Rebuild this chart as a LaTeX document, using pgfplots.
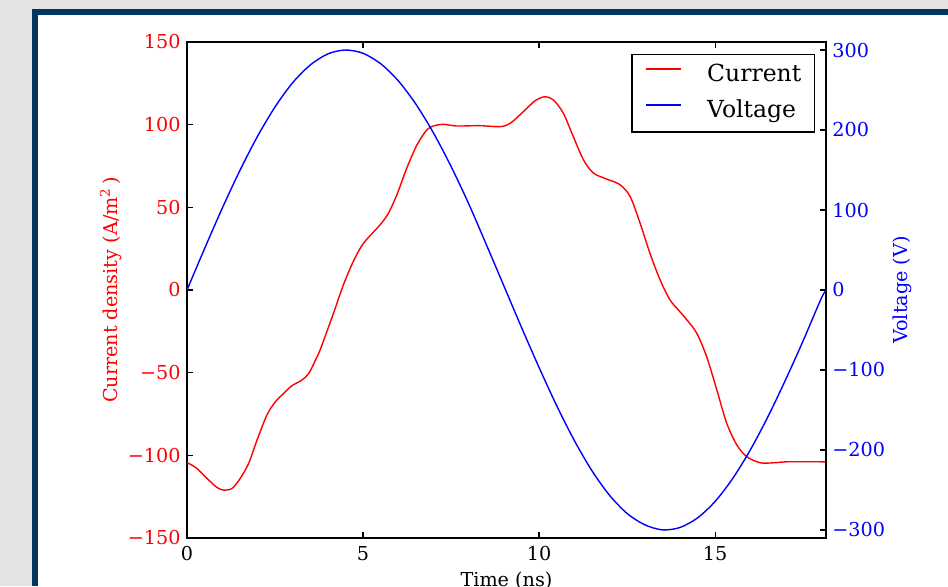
\documentclass[border=0pt]{standalone}
\usepackage{fontspec}
\setmainfont{DejaVu Serif}
\usepackage{pgfplots}
\pgfplotsset{compat=1.18}
\definecolor{bgGray}{HTML}{E5E4E2}
\definecolor{frameBlue}{HTML}{03365F}
\newcommand{\tickfont}{\fontsize{9.6}{11}\selectfont}
\newcommand{\legfont}{\fontsize{11.75}{14}\selectfont}
\begin{document}
\begin{tikzpicture}
\begin{scope}[x=0.5pt,y=0.5pt]
\useasboundingbox (0,0) rectangle (948,586);
\clip (0,0) rectangle (948,586);
\fill[bgGray] (0,0) rectangle (948,586);
\fill[frameBlue] (32,0) rectangle (948,577);
\fill[white] (38,0) rectangle (948,571);
\end{scope}
\begin{scope}
\clip (0,0) rectangle (474pt,293pt);
\begin{axis}[
  at={(93.5pt,24pt)}, anchor=south west, scale only axis,
  width=319.5pt, height=248pt,
  xmin=0, xmax=18.15, ymin=-150, ymax=150,
  xtick={0,5,10,15}, xticklabels={0,5,10,15},
  ytick={-150,-100,-50,0,50,100,150},
  yticklabels={−150,−100,−50,0,50,100,150},
  xtick pos=both, ytick pos=left,
  xticklabel pos=lower, yticklabel pos=left,
  tick align=inside, major tick length=3pt,
  every tick/.style={black, line width=0.6pt},
  axis line style={black, line width=0.7pt},
  every tick label/.append style={font=\tickfont, inner sep=0pt},
  yticklabel style={red, xshift=-3pt},
  xticklabel style={yshift=-4pt},
  label style={font=\tickfont},
  xlabel={Time (ns)},
  xlabel style={at={(axis description cs:0.5,-0.0968)}, anchor=base},
  ylabel={Current density (A/m\textsuperscript{2}\,)},
  ylabel style={red, at={(axis description cs:-0.1095,0.5)}, anchor=base},
]
\addplot[red, line width=0.7pt, smooth] coordinates {
(0,-104.3)(0.28,-107.9)(0.57,-114.0)(0.85,-119.4)(1.04,-121.0)(1.28,-120.0)
(1.51,-114.0)(1.75,-104.9)(1.99,-90.7)(2.27,-75.6)(2.51,-67.6)(2.75,-62.5)
(2.98,-57.9)(3.27,-54.4)(3.46,-50.4)(3.65,-42.3)(3.78,-36.3)(4.16,-14.1)
(4.44,3.0)(4.72,17.1)(5.01,28.2)(5.48,39.3)(5.72,46.4)(5.96,57.5)
(6.24,73.6)(6.53,87.7)(6.81,96.8)(7.00,99.2)(7.28,100.2)(7.66,99.2)
(8.32,99.4)(8.89,98.8)(9.18,100.8)(9.55,107.8)(9.89,114.5)(10.17,116.9)
(10.41,114.9)(10.69,106.9)(10.97,92.9)(11.26,78.8)(11.54,70.8)(11.92,67.1)
(12.30,63.7)(12.59,56.4)(12.87,40.4)(13.15,22.2)(13.44,6.0)(13.72,-6.0)
(14.00,-13.1)(14.20,-18.1)(14.48,-26.2)(14.76,-40.3)(15.05,-60.5)(15.33,-80.6)
(15.62,-93.8)(15.90,-100.8)(16.28,-104.5)(16.66,-104.5)(17.04,-103.9)(17.51,-103.9)
(17.98,-103.9)(18.15,-104.0)
};
\end{axis}
\begin{axis}[
  at={(93.5pt,24pt)}, anchor=south west, scale only axis,
  width=319.5pt, height=248pt,
  xmin=0, xmax=18.15, ymin=-310, ymax=310,
  axis x line=none, axis y line*=right,
  ytick={-300,-200,-100,0,100,200,300},
  yticklabels={−300,−200,−100,0,100,200,300},
  ytick pos=right, yticklabel pos=right,
  tick align=inside, major tick length=3pt,
  every tick/.style={black, line width=0.6pt},
  axis line style={black, line width=0.7pt},
  every tick label/.append style={font=\tickfont, inner sep=0pt},
  yticklabel style={blue, xshift=3pt},
  label style={font=\tickfont},
  ylabel={Voltage (V)},
  ylabel style={blue, at={(axis description cs:1.1268,0.5)}, anchor=base},
  legend style={at={(axis description cs:0.9828,0.9758)}, anchor=north east,
    draw=black, line width=0.7pt, font=\legfont, inner xsep=6.5pt, inner ysep=4.5pt,
    row sep=6.3pt, nodes={inner sep=0pt, text height=9pt, text depth=2.7pt},
    /tikz/every odd column/.append style={column sep=13pt}},
  legend cell align=left,
  legend image code/.code={\draw[#1] (0pt,3.2pt) -- (17.5pt,3.2pt);},
]
\addlegendimage{red, line width=0.7pt}
\addlegendentry{Current}
\addplot[blue, line width=0.7pt, smooth] coordinates {
(0,0)(0.5,51.8)(1.0,102.1)(1.5,149.2)(2.0,191.9)(2.5,228.8)(3.0,259.1)
(3.5,281.2)(4.0,295.1)(4.5,300.0)(5.0,295.9)(5.5,282.9)(6.0,261.6)
(6.5,232.4)(7.0,196.4)(7.5,154.5)(8.0,107.9)(8.5,57.0)(9.0,5.2)
(9.5,-46.6)(10.0,-96.8)(10.5,-144.5)(11.0,-188.0)(11.5,-225.8)(12.0,-256.5)
(12.5,-279.3)(13.0,-293.4)(13.5,-299.8)(14.0,-296.9)(14.5,-284.9)(15.0,-264.3)
(15.5,-235.6)(16.0,-199.9)(16.5,-158.4)(17.0,-112.4)(17.5,-63.5)(18.0,-12.0)
(18.15,0)
};
\addlegendentry{Voltage}
\end{axis}
\end{scope}
\pgfresetboundingbox
\path (0,0) rectangle (474pt,293pt);
\end{tikzpicture}
\end{document}
